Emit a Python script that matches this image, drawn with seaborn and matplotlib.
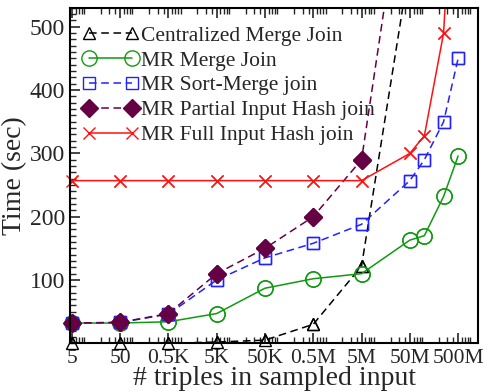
import matplotlib
matplotlib.use("Agg")
import matplotlib.pyplot as plt
import seaborn as sns
import pandas as pd
import numpy as np
from matplotlib.ticker import FixedLocator, LogLocator, MultipleLocator, NullFormatter

sns.set_theme(style="white")
plt.rcParams['font.family'] = ['Liberation Serif', 'DejaVu Serif']
plt.rcParams['mathtext.fontset'] = 'stix'

tick_values = [5, 50, 5e2, 5e3, 5e4, 5e5, 5e6, 5e7, 5e8]
tick_labels = ["5", "50", "0.5K", "5K", "50K", "0.5M", "5M", "50M", "500M"]

cent_x = [5, 50, 5e2, 5e3, 5e4, 5e5, 5e6, 5e7]
cent_y = [0, 0, 0, 2, 5, 30, 122, 600]

merge_x = [5, 50, 5e2, 5e3, 5e4, 5e5, 5e6, 5e7, 1e8, 2.5e8, 5e8]
merge_y = [32, 32, 34, 47, 87, 102, 110, 163, 170, 232, 296]

sort_x = [5, 50, 5e2, 5e3, 5e4, 5e5, 5e6, 5e7, 1e8, 2.5e8, 5e8]
sort_y = [32, 33, 46, 100, 135, 158, 188, 257, 290, 350, 450]

partial_x = [5, 50, 5e2, 5e3, 5e4, 5e5, 5e6, 5e7]
partial_y = [32, 33, 47, 110, 150, 200, 290, 800]

full_x = [5, 50, 5e2, 5e3, 5e4, 5e5, 5e6, 5e7, 1e8, 2.5e8, 5e8]
full_y = [257, 257, 257, 257, 257, 257, 257, 300, 328, 490, 900]

YMAX = 530

series = [
    ("Centralized Merge Join", cent_x, cent_y, "black", "^", (0, (5, 3)), "none", 9),
    ("MR Merge Join", merge_x, merge_y, "#119911", "o", "-", "none", 11),
    ("MR Sort-Merge join", sort_x, sort_y, "#2222ff", "s", (0, (5, 3)), "none", 8.5),
    ("MR Partial Input Hash join", partial_x, partial_y, "#660044", "D", (0, (5, 3)), "#660044", 9),
    ("MR Full Input Hash join", full_x, full_y, "#ff1111", "x", "-", "none", 8),
]

fig, ax = plt.subplots(figsize=(4.83, 3.91), dpi=100)
for name, xs, ys, col, mk, ls, mfc, ms in series:
    df = pd.DataFrame({"x": xs, "y": ys})
    sns.lineplot(data=df, x="x", y="y", ax=ax, color=col, linestyle=ls, linewidth=1.1,
                 marker=mk, markersize=ms, markerfacecolor=mfc,
                 markeredgecolor=col, markeredgewidth=1.0, label=name)
    # unclipped markers for points inside the visible range (e.g. at y = 0)
    dfin = df[df["y"] <= YMAX]
    sns.lineplot(data=dfin, x="x", y="y", ax=ax, color=col, linestyle="", marker=mk,
                 markersize=ms, markerfacecolor=mfc, markeredgecolor=col,
                 markeredgewidth=1.0, clip_on=False, legend=False)

ax.set_xscale("log")
ax.set_xlim(4.6, 1.3e9)
ax.set_ylim(0, YMAX)
ax.xaxis.set_major_locator(FixedLocator(tick_values))
ax.set_xticklabels(tick_labels)
ax.xaxis.set_minor_locator(LogLocator(base=10, subs=np.arange(2, 10) * 1.0, numticks=100))
ax.xaxis.set_minor_formatter(NullFormatter())
ax.yaxis.set_major_locator(FixedLocator([100, 200, 300, 400, 500]))
ax.yaxis.set_minor_locator(MultipleLocator(10))
ax.tick_params(axis="x", which="both", direction="in", top=True, bottom=True, labelsize=15.5, pad=4)
ax.tick_params(axis="y", which="both", direction="in", left=True, right=False, labelsize=17)
ax.tick_params(which="major", length=7, width=1.2)
ax.tick_params(which="minor", length=4, width=1.0)
for s in ax.spines.values():
    s.set_color("black")
    s.set_linewidth(1.5)

ax.set_xlabel("# triples in sampled input", fontsize=20, labelpad=-1)
ax.set_ylabel("Time (sec)", fontsize=20, labelpad=2)

leg = ax.legend(loc="upper left", frameon=False, fontsize=15.5, handlelength=2.6,
                handletextpad=0.1, labelspacing=0.22, borderaxespad=0.2, numpoints=2,
                bbox_to_anchor=(0.0, 0.985))

fig.subplots_adjust(left=0.145, right=0.99, top=0.98, bottom=0.122)
fig.savefig("out.png", dpi=100)
